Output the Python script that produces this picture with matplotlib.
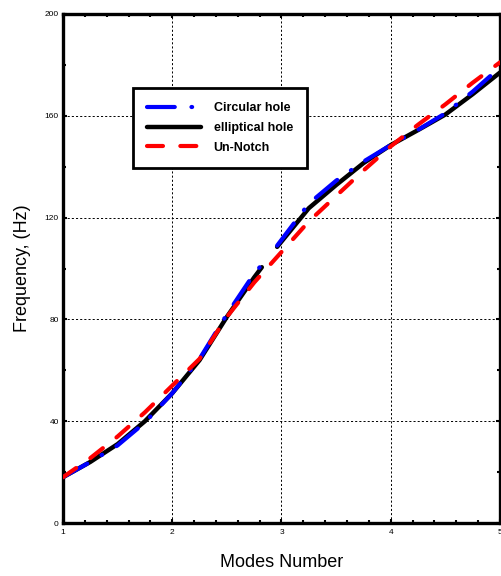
import numpy as np
import matplotlib
matplotlib.use("Agg")
import matplotlib.pyplot as plt
from matplotlib.ticker import MultipleLocator

plt.rcParams['font.family'] = ['Liberation Sans', 'DejaVu Sans']
plt.rcParams['lines.scale_dashes'] = False

# data
x_circ = [1, 1.25, 1.5, 1.75, 2, 2.25, 2.5, 2.75, 2.82, 2.9, 2.96, 3.25, 3.5, 3.75, 4, 4.25, 4.5, 4.75, 5]
y_circ = [18, 24, 30.5, 39.5, 51, 64.5, 82, 98, 101.5, np.nan, 109, 125.5, 134.5, 142, 148.5, 154.5, 161, 169.5, 179]

x_ell = [1, 1.25, 1.5, 1.75, 2, 2.25, 2.5, 2.75, 2.82, 2.9, 2.96, 3.25, 3.5, 3.75, 4, 4.25, 4.5, 4.75, 5]
y_ell = [18, 24, 31, 40, 51, 64, 81, 96.5, 100.5, np.nan, 108.5, 123.7, 132.8, 141.4, 148.5, 154.4, 160.5, 168.5, 177]

x_un = [1, 1.25, 1.5, 1.75, 2, 2.25, 2.5, 2.75, 3, 3.25, 3.5, 3.75, 4, 4.25, 4.5, 4.75, 5]
y_un = [18, 25.5, 34, 43.5, 54, 64.5, 81, 94.5, 106.5, 118.5, 128.5, 138.5, 148, 156.5, 164.5, 173, 181]

labels = ['Circular hole', 'elliptical hole', 'Un-Notch']
xticks = [1, 2, 3, 4, 5]
yticks = [0, 40, 80, 120, 160, 200]

fig = plt.figure(figsize=(5.02, 5.76), dpi=100)
ax = fig.add_axes([63/502, 1-523/576, 437/502, 509/576])

l_ell, = ax.plot(x_ell, y_ell, color='black', lw=3.2, solid_capstyle='round',
                 solid_joinstyle='round', zorder=3)
l_circ, = ax.plot(x_circ, y_circ, color='#0000ff', lw=3.0, dash_capstyle='round',
                  dashes=(20, 12, 0.5, 12), zorder=4)
l_un, = ax.plot(x_un, y_un, color='#ff0000', lw=3.0, dash_capstyle='round',
                dashes=(11.5, 12.5), zorder=5)

ax.set_xlim(1, 5)
ax.set_ylim(0, 200)
ax.set_xticks(xticks)
ax.set_yticks(yticks)
ax.set_xticklabels([str(t) for t in xticks])
ax.set_yticklabels([str(t) for t in yticks])
ax.xaxis.set_minor_locator(MultipleLocator(0.2))
ax.yaxis.set_minor_locator(MultipleLocator(20))
ax.tick_params(which='both', direction='in', top=True, right=True, labelsize=6,
               width=1.5, color='black')
ax.tick_params(which='major', length=3)
ax.tick_params(axis='x', which='major', pad=4)
ax.tick_params(axis='y', which='major', pad=3)
ax.tick_params(which='minor', length=2)
ax.grid(True, which='major', color='black', linestyle=(0, (1.5, 1.5)), linewidth=0.7)

for s in ax.spines.values():
    s.set_linewidth(2.4)

ax.set_xlabel('Modes Number', fontsize=13, labelpad=13.5)
ax.set_ylabel('Frequency, (Hz)', fontsize=13, labelpad=10)

leg = ax.legend([l_circ, l_ell, l_un], labels, loc='upper left',
                bbox_to_anchor=(0.16, 0.855), borderaxespad=0,
                prop={'weight': 'bold', 'size': 9}, handlelength=4.3,
                fancybox=False, framealpha=1, edgecolor='black',
                borderpad=1.15, labelspacing=0.62, handletextpad=1.0)
leg.get_frame().set_linewidth(2.0)

fig.savefig('out.png', dpi=100)
